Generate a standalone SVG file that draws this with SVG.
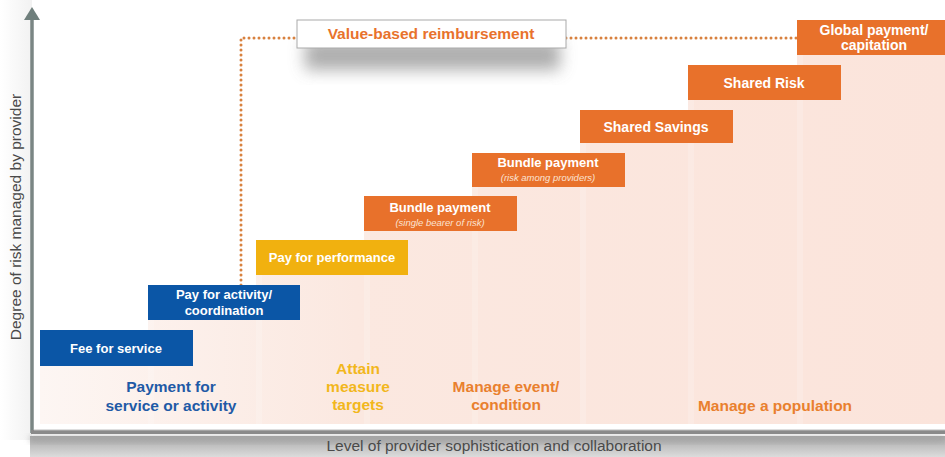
<svg xmlns="http://www.w3.org/2000/svg" width="945" height="457" viewBox="0 0 945 457">
<defs>
<style>
.bx{stroke:none}
.blue{fill:#0b56a6}
.yel{fill:#f1b10f}
.org{fill:#e8712b}
.bt{font-family:"Liberation Sans",Arial,sans-serif;font-weight:bold;font-size:13px;fill:#ffffff;text-anchor:middle}
.bl{font-size:14px}
.bs{font-family:"Liberation Sans",Arial,sans-serif;font-style:italic;font-size:9.5px;fill:#fbe3d3;text-anchor:middle}
.lb{font-family:"Liberation Sans",Arial,sans-serif;font-weight:bold;font-size:15.5px;text-anchor:middle}
.ax{font-family:"Liberation Sans Narrow","Liberation Sans",Arial,sans-serif;font-size:15.5px;fill:#4a4a4a;text-anchor:middle}
.dot{fill:none;stroke:#d8813e;stroke-width:3;stroke-linecap:round;stroke-dasharray:0 5}
</style>
<linearGradient id="pink" x1="0" y1="0" x2="1" y2="0">
<stop offset="0" stop-color="#fdf6f3"/>
<stop offset="0.35" stop-color="#fbe8e0"/>
<stop offset="1" stop-color="#fbe4db"/>
</linearGradient>
<linearGradient id="band" x1="0" y1="0" x2="0" y2="1">
<stop offset="0" stop-color="#a8a8a8"/>
<stop offset="1" stop-color="#dcdcdc"/>
</linearGradient>
<linearGradient id="leftsh" x1="0" y1="0" x2="1" y2="0">
<stop offset="0" stop-color="#ffffff"/>
<stop offset="1" stop-color="#e9e9e9"/>
</linearGradient>
<filter id="blur" x="-20%" y="-50%" width="140%" height="200%"><feGaussianBlur stdDeviation="8"/></filter>
<filter id="blur2" x="-5%" y="-50%" width="110%" height="200%"><feGaussianBlur stdDeviation="3"/></filter>
</defs>
<rect width="945" height="457" fill="#ffffff"/>
<rect x="0" y="0" width="32" height="440" fill="url(#leftsh)" opacity="0.6"/>
<rect x="305" y="40" width="255" height="30" fill="#9a9a9a" filter="url(#blur)" opacity="0.8"/>
<g id="area">
<polygon points="40,366 40,424 945,424 945,55 797,55 797,100 688,100 688,143 580,143 580,187 472,187 472,231 364,231 364,275 256,275 256,320 148,320 148,366" fill="url(#pink)"/>
<rect x="148" y="320" width="6" height="104" fill="#ffffff" opacity="0.18"/>
<rect x="256" y="275" width="6" height="149" fill="#ffffff" opacity="0.18"/>
<rect x="364" y="231" width="6" height="193" fill="#ffffff" opacity="0.18"/>
<rect x="472" y="187" width="6" height="237" fill="#ffffff" opacity="0.18"/>
<rect x="580" y="143" width="6" height="281" fill="#ffffff" opacity="0.18"/>
<rect x="688" y="100" width="6" height="324" fill="#ffffff" opacity="0.18"/>
<rect x="797" y="55" width="6" height="369" fill="#ffffff" opacity="0.18"/>
</g>
<g id="axes">
<rect x="30" y="436" width="915" height="21" fill="url(#band)"/>
<rect x="30" y="436" width="915" height="6" fill="#9a9a9a" filter="url(#blur2)" opacity="0.6"/>
<line x1="32" y1="18" x2="32" y2="433" stroke="#7a8684" stroke-width="3.5"/>
<polygon points="32,7 24,20 40,20" fill="#6f7f7c"/>
<line x1="31" y1="432" x2="945" y2="432" stroke="#8a8a8a" stroke-width="4"/>
<line x1="34" y1="430" x2="945" y2="430" stroke="#bdbdbd" stroke-width="1"/>
<text class="ax" x="494" y="451">Level of provider sophistication and collaboration</text>
<text class="ax" transform="translate(21,217) rotate(-90)" font-size="15">Degree of risk managed by provider</text>
</g>
<g id="connectors">
<path class="dot" d="M241,285 L241,38 L296,38"/>
<path class="dot" d="M566,38 L797,38"/>
</g>
<g id="value-based">
<rect x="297" y="20" width="269" height="28" fill="#ffffff" stroke="#a9a9a9" stroke-width="1"/>
<text class="lb" x="431" y="39" fill="#e8722c">Value-based reimbursement</text>
</g>
<g id="fee"><rect class="bx blue" x="40" y="330" width="153" height="36"/><text class="bt" x="116" y="353">Fee for service</text></g>
<g id="activity"><rect class="bx blue" x="148" y="285" width="152" height="35"/><text class="bt" x="224" y="299">Pay for activity/</text><text class="bt" x="224" y="315">coordination</text></g>
<g id="performance"><rect class="bx yel" x="256" y="240" width="152" height="35"/><text class="bt" x="332" y="262">Pay for performance</text></g>
<g id="bundle1"><rect class="bx org" x="364" y="196" width="153" height="35"/><text class="bt" x="440" y="212">Bundle payment</text><text class="bs" x="440" y="226">(single bearer of risk)</text></g>
<g id="bundle2"><rect class="bx org" x="472" y="153" width="153" height="34"/><text class="bt" x="548" y="167">Bundle payment</text><text class="bs" x="548" y="181">(risk among providers)</text></g>
<g id="savings"><rect class="bx org" x="580" y="110" width="153" height="33"/><text class="bt bl" x="656" y="132">Shared Savings</text></g>
<g id="risk"><rect class="bx org" x="688" y="65" width="153" height="35"/><text class="bt bl" x="764" y="88">Shared Risk</text></g>
<g id="global"><rect class="bx org" x="797" y="20" width="148" height="35"/><text class="bt bl" x="874" y="35">Global payment/</text><text class="bt bl" x="874" y="50">capitation</text></g>
<g id="labels">
<text class="lb" x="171" y="392" fill="#1f5aa6">Payment for</text>
<text class="lb" x="171" y="411" fill="#1f5aa6">service or activity</text>
<text class="lb" x="358" y="374" fill="#f2b71c">Attain</text>
<text class="lb" x="358" y="392" fill="#f2b71c">measure</text>
<text class="lb" x="358" y="410" fill="#f2b71c">targets</text>
<text class="lb" x="506" y="392" fill="#e9802e">Manage event/</text>
<text class="lb" x="506" y="410" fill="#e9802e">condition</text>
<text class="lb" x="775" y="411" fill="#e9802e">Manage a population</text>
</g>
</svg>
